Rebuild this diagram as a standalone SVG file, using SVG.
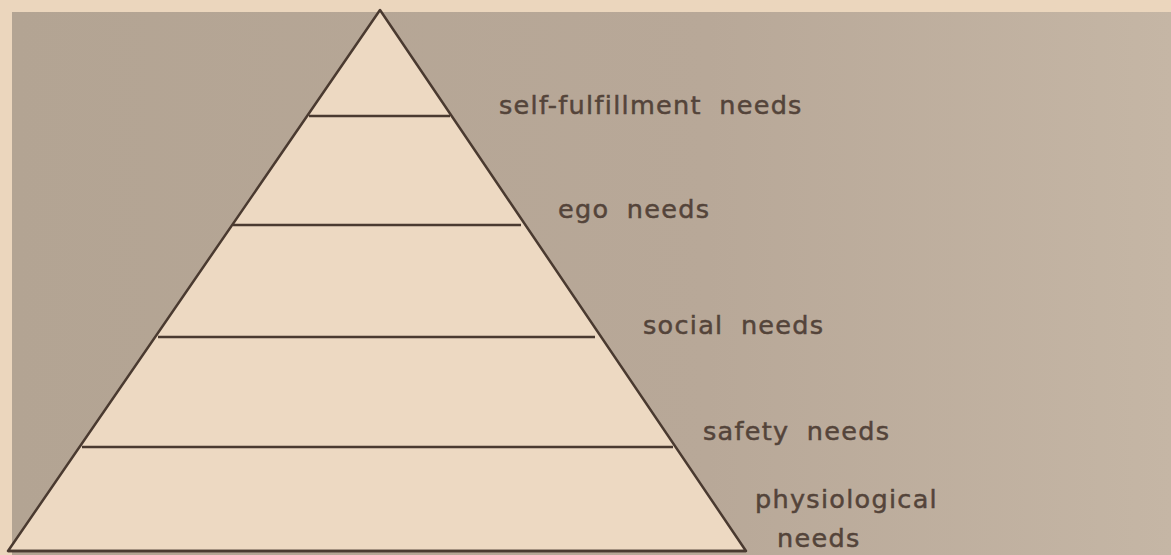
<svg xmlns="http://www.w3.org/2000/svg" width="1171" height="555" viewBox="0 0 1171 555">
<defs>
<linearGradient id="bg" x1="0" y1="0" x2="1" y2="0">
<stop offset="0" stop-color="#b3a493"/>
<stop offset="0.6" stop-color="#b8a898"/>
<stop offset="1" stop-color="#c5b6a5"/>
</linearGradient>
</defs>
<style>
.lbl{font-family:"DejaVu Sans","Liberation Sans",sans-serif;font-size:25.5px;fill:#54443a;stroke:#54443a;stroke-width:0.5px;letter-spacing:1.3px;word-spacing:8px}
.ln{stroke:#4a3a30;stroke-width:2.5;fill:none}
</style>
<rect x="0" y="0" width="1171" height="555" fill="#ebd6bd"/>
<rect x="12" y="12" width="1159" height="543" fill="url(#bg)"/>
<g id="pyramid">
<polygon points="380,10 8,551 746,551" fill="#edd9c2" stroke="#4a3a30" stroke-width="2.5" stroke-linejoin="round"/>
</g>
<g id="connectors">
<line class="ln" x1="309" y1="116" x2="450" y2="116"/>
<line class="ln" x1="233" y1="225" x2="521" y2="225"/>
<line class="ln" x1="158" y1="337" x2="595" y2="337"/>
<line class="ln" x1="82" y1="447" x2="673" y2="447"/>
<line class="ln" x1="8" y1="551" x2="746" y2="551"/>
</g>
<g id="self-fulfillment"><text class="lbl" x="499" y="114">self-fulfillment needs</text></g>
<g id="ego"><text class="lbl" x="558" y="218">ego needs</text></g>
<g id="social"><text class="lbl" x="643" y="334">social needs</text></g>
<g id="safety"><text class="lbl" x="703" y="440">safety needs</text></g>
<g id="physiological"><text class="lbl" x="755" y="508">physiological</text><text class="lbl" x="777" y="547">needs</text></g>
</svg>
